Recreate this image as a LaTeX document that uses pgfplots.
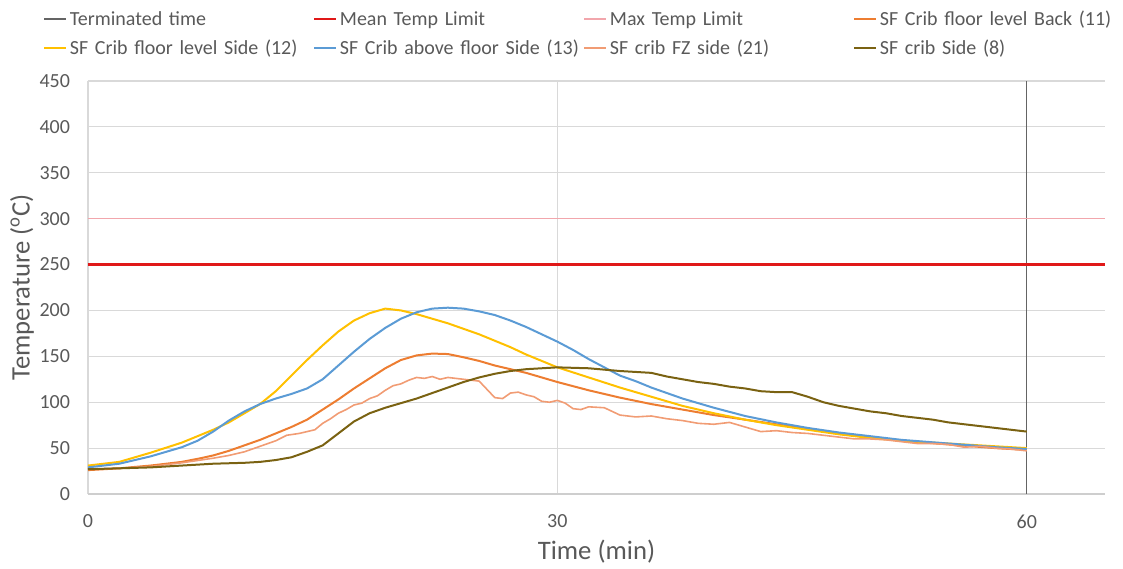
\documentclass[border=0pt]{standalone}
\usepackage{fontspec}
\setmainfont{Carlito}
\usepackage{pgfplots}
\pgfplotsset{compat=1.18}

\definecolor{txtgray}{RGB}{89,89,89}
\definecolor{gridgray}{RGB}{217,217,217}
\definecolor{termgray}{RGB}{100,100,100}
\definecolor{meanred}{RGB}{224,24,24}
\definecolor{maxpink}{RGB}{242,166,172}
\definecolor{backorange}{RGB}{237,125,49}
\definecolor{sideyellow}{RGB}{255,192,0}
\definecolor{aboveblue}{RGB}{91,155,213}
\definecolor{fzsalmon}{RGB}{241,156,116}
\definecolor{cribolive}{RGB}{122,98,18}

\begin{document}
\begin{tikzpicture}
% page = 1123 x 568 px at 0.75pt/px, plot area from (88,81) to (1105,494)
\useasboundingbox (-66pt,-55.5pt) rectangle (776.25pt,370.5pt);
\begin{axis}[
  name=ax,
  at={(0,0)}, anchor=south west,
  scale only axis,
  width=762.75pt, height=309.75pt,
  xmin=0, xmax=65, ymin=0, ymax=450,
  xtick={0,30,60}, ytick={0,50,...,450},
  axis x line*=bottom, axis y line*=left,
  x axis line style={draw=gridgray!80!black!60, line width=0.8pt, -},
  y axis line style={draw=none},
  major tick length=0pt,
  xmajorgrids, ymajorgrids,
  grid style={draw=gridgray, line width=0.8pt},
  /pgf/number format/assume math mode=true,
  tick label style={font=\fontsize{15}{18}\selectfont, text=txtgray},
  xticklabel style={yshift=-12pt},
  yticklabel style={xshift=-10pt},
  xlabel={Time (min)},
  ylabel={Temperature (\textsuperscript{o}C)},
  label style={font=\fontsize{20}{24}\selectfont, text=txtgray},
  xlabel style={at={(axis description cs:0.5,-0.1404)}, anchor=center},
  ylabel style={at={(axis description cs:-0.0649,0.5)}, anchor=center},
  legend columns=4,
  legend cell align=left,
  legend image code/.code={\draw[#1, line width=1.5pt] (0pt,0pt) -- (16.5pt,0pt);},
  legend style={
    at={(axis description cs:0,1)}, anchor=south west,
    xshift=-33.75pt, yshift=16pt,
    draw=none, fill=none, inner sep=0pt,
    row sep=5.5pt,
    font=\fontsize{15}{18}\selectfont, text=txtgray,
    /tikz/every even column/.append style={text width=180.5pt, inner xsep=1pt},
  },
]
% Terminated time
\addplot[termgray, line width=0.9pt] coordinates {(60,0) (60,450)};
\addlegendentry{Terminated time}
% Mean Temp Limit
\addplot[meanred, line width=2.2pt] coordinates {(0,250) (65,250)};
\addlegendentry{Mean Temp Limit}
% Max Temp Limit
\addplot[maxpink, line width=1.1pt] coordinates {(0,300) (65,300)};
\addlegendentry{Max Temp Limit}
% SF Crib floor level Back (11)
\addplot[backorange, line width=1.5pt] table {
0 26
2 28
4 31
6 35
7.2 39
8 42
9 47
10 53
11 59
12 66
13 73
14 81
15 92
16 103
17 115
18 126
19 137
20 146
21 151
22 153
23 152.5
24 149
25 145
26 140
27 136
28 132
29 127
30 122
32 113
34 105
36 98
38 92
40 86
42 81
44 76
46 71
48 66
50 62
52 58
55 54
58 50
60 48
};
\addlegendentry{SF Crib floor level Back (11)}
% SF Crib floor level Side (12)
\addplot[sideyellow, line width=1.5pt] table {
0 31
2 35
4 45
6 56
8 70
9 78
10 88
11 98
12 112
13 129
14 146
15 162
16 177
17 189
18 197
19 202
20 200
21 196
22 191
23 186
24 180
25 174
26 167
27 160
28 152
29 145
30 138
32 127
34 116
36 106
38 96
40 88
42 81
44 75
46 70
48 65
50 61
52 58
55 55
58 52
60 50
};
\addlegendentry{SF Crib floor level Side (12)}
% SF Crib above floor Side (13)
\addplot[aboveblue, line width=1.5pt] table {
0 29
2 33
4 41
6 51
7 58
8 68
9 80
10 90
11 98
12 104
13 109
14 115
15 125
16 140
17 155
18 169
19 181
20 191
21 198
22 202
23 203
24 202
25 199
26 195
27 189
28 182
29 174
30 166
31 157
32 147
33 138
34 129
35 123
36 116
38 104
40 94
42 85
44 78
46 72
48 67
50 63
52 59
55 55
58 51
60 49
};
\addlegendentry{SF Crib above floor Side (13)}
% SF crib FZ side (21)
\addplot[fzsalmon, line width=1.2pt] table {
0 27
2 28
4 30
6 34
8 39
9 42
10 46
11 52
12 58
12.7 64
13.5 66
14 68
14.5 70
15 77
15.5 82
16 88
16.5 92
17 97
17.5 99
18 104
18.5 107
19 113
19.5 118
20 120
20.5 124
21 127
21.5 126
22 128
22.5 125
23 127
23.5 126
24 125
24.5 124
25 123
25.5 114
26 105
26.5 104
27 110
27.5 111
28 108
28.5 106
29 101
29.5 100
30 102
30.5 99
31 93
31.5 92
32 95
33 94
33.5 90
34 86
35 84
36 85
37 82
38 80
39 77
40 76
41 78
42 73
43 68
44 69
45 67
46 66
47 64
48 62
49 60
50 60
51 59
52 57
53 55
54 55
55 54
56 51
57 52
58 50
59 49
60 47
};
\addlegendentry{SF crib FZ side (21)}
% SF crib Side (8)
\addplot[cribolive, line width=1.5pt] table {
0 27
2 28
4 29
6 31
8 33
10 34
11 35
12 37
13 40
14 46
15 53
16 66
17 79
18 88
19 94
20 99
21 104
22 110
23 116
24 122
25 127
26 131
27 134
28 136
29 137
30 138
32 137
34 134
35 133
36 132
37 128
38 125
39 122
40 120
41 117
42 115
43 112
44 111
45 111
46 106
47 100
48 96
49 93
50 90
51 88
52 85
53 83
54 81
55 78
56 76
57 74
58 72
59 70
60 68
};
\addlegendentry{SF crib Side (8)}
\end{axis}
\end{tikzpicture}
\end{document}
